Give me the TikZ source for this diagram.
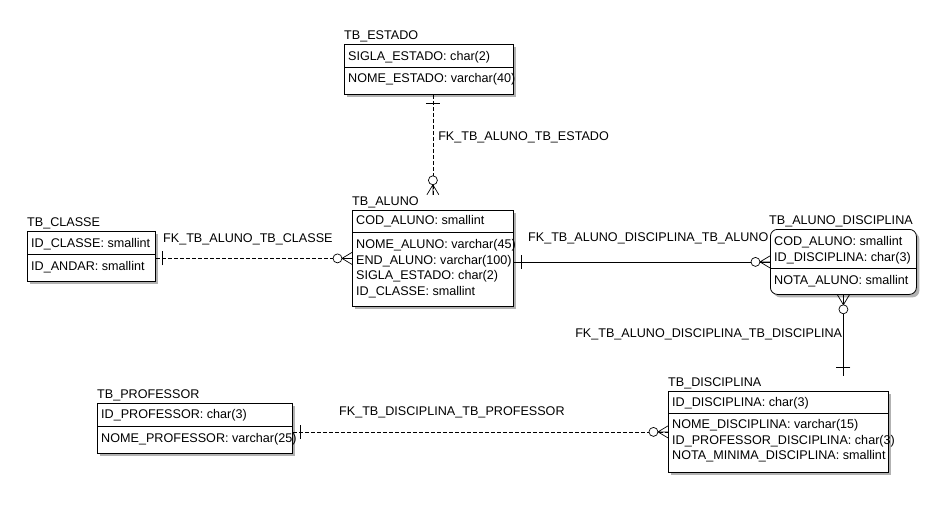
\documentclass[tikz,border=0pt]{standalone}
\usepackage{fontspec}
\setmainfont{Liberation Sans}
\usetikzlibrary{positioning,shadows,decorations.markings}

\begin{document}
\begin{tikzpicture}[x=1pt,y=-1pt,
	font=\fontsize{12.6}{15.5}\selectfont,
	tbl/.style={draw,fill=white,line width=0.8pt,anchor=north west,inner sep=0pt,
		drop shadow={shadow xshift=3pt,shadow yshift=-3pt,fill=black!30,opacity=1}},
	fld/.style={inner sep=0pt,align=left},
	ttl/.style={inner xsep=0pt,inner ysep=1.5pt},
	lbl/.style={inner sep=0pt},
	fk/.style={line width=0.7pt},
	opt/.style={fk,dash pattern=on 4pt off 2pt},
	one start/.style={postaction={decorate,decoration={markings,
		mark=at position #1 with {\draw[solid] (0,-7pt) -- (0,7pt);}}}},
	many end/.style={postaction={decorate,decoration={markings,
		mark=at position 0.9999 with {\draw[solid] (0pt,-6pt) -- (-10pt,0pt) -- (0pt,6pt) (-10pt,0pt) -- (0pt,0pt);
			\draw[solid,fill=white] (-14.5pt,0pt) circle (4.5pt);}}}}]
	\path[use as bounding box,fill=white] (0,0) rectangle (949,519);

	% TB_ESTADO
	\node[tbl,minimum width=169pt,minimum height=50pt] (estado) at (344,44) {};
	\draw ([yshift=-23pt]estado.north west) -- ([yshift=-23pt]estado.north east);
	\node[ttl,above right=0.5pt and 0pt of estado.north west] (estadot) {TB\_ESTADO};
	\node[fld,below right=7.5pt and 4pt of estado.north west] (estadopk) {SIGLA\_ESTADO: char(2)};
	\node[fld,below right=29.5pt and 4pt of estado.north west] (estadocol) {NOME\_ESTADO: varchar(40)};

	% TB_ALUNO
	\node[tbl,minimum width=161pt,minimum height=96pt] (aluno) at (352,210) {};
	\draw ([yshift=-22pt]aluno.north west) -- ([yshift=-22pt]aluno.north east);
	\node[ttl,above right=0.5pt and 0pt of aluno.north west] (alunot) {TB\_ALUNO};
	\node[fld,below right=5.5pt and 4pt of aluno.north west] (alunopk) {COD\_ALUNO: smallint};
	\node[fld,below right=29.5pt and 4pt of aluno.north west] (alunocol) {NOME\_ALUNO: varchar(45)\\END\_ALUNO: varchar(100)\\SIGLA\_ESTADO: char(2)\\ID\_CLASSE: smallint};

	% TB_CLASSE
	\node[tbl,minimum width=128pt,minimum height=50pt] (classe) at (27,231) {};
	\draw ([yshift=-23pt]classe.north west) -- ([yshift=-23pt]classe.north east);
	\node[ttl,above right=0.5pt and 0pt of classe.north west] (classet) {TB\_CLASSE};
	\node[fld,below right=7.5pt and 4pt of classe.north west] (classepk) {ID\_CLASSE: smallint};
	\node[fld,below right=30.5pt and 4pt of classe.north west] (classecol) {ID\_ANDAR: smallint};

	% TB_ALUNO_DISCIPLINA
	\node[tbl,rounded corners=7pt,minimum width=146pt,minimum height=65pt] (ad) at (770,229) {};
	\draw ([yshift=-39pt]ad.north west) -- ([yshift=-39pt]ad.north east);
	\node[ttl,above right=0.5pt and -1pt of ad.north west] (adt) {TB\_ALUNO\_DISCIPLINA};
	\node[fld,below right=7.5pt and 4pt of ad.north west] (adpk) {COD\_ALUNO: smallint\\ID\_DISCIPLINA: char(3)};
	\node[fld,below right=46.5pt and 4pt of ad.north west] (adcol) {NOTA\_ALUNO: smallint};

	% TB_DISCIPLINA
	\node[tbl,minimum width=220pt,minimum height=81pt] (disc) at (668,391) {};
	\draw ([yshift=-22pt]disc.north west) -- ([yshift=-22pt]disc.north east);
	\node[ttl,above right=0.5pt and 0pt of disc.north west] (disct) {TB\_DISCIPLINA};
	\node[fld,below right=6.5pt and 4pt of disc.north west] (discpk) {ID\_DISCIPLINA: char(3)};
	\node[fld,below right=28.5pt and 4pt of disc.north west] (disccol) {NOME\_DISCIPLINA: varchar(15)\\ID\_PROFESSOR\_DISCIPLINA: char(3)\\NOTA\_MINIMA\_DISCIPLINA: smallint};

	% TB_PROFESSOR
	\node[tbl,minimum width=195pt,minimum height=50pt] (prof) at (97,403) {};
	\draw ([yshift=-23pt]prof.north west) -- ([yshift=-23pt]prof.north east);
	\node[ttl,above right=0.5pt and 0pt of prof.north west] (proft) {TB\_PROFESSOR};
	\node[fld,below right=6.5pt and 4pt of prof.north west] (profpk) {ID\_PROFESSOR: char(3)};
	\node[fld,below right=30.5pt and 4pt of prof.north west] (profcol) {NOME\_PROFESSOR: varchar(25)};

	% relacionamentos
	\draw[opt,one start=9pt,many end] (aluno.north |- estado.south) -- (aluno.north |- alunot.north)
		node[lbl,pos=0.43,anchor=west,xshift=5pt] (fkestado) {FK\_TB\_ALUNO\_TB\_ESTADO};
	\draw[opt,one start=7pt,many end] (aluno.west -| classe.east) -- (aluno.west)
		node[lbl,pos=0,anchor=base west,xshift=7pt,yshift=16pt] (fkclasse) {FK\_TB\_ALUNO\_TB\_CLASSE};
	\draw[fk,one start=8pt,many end] (ad.west -| aluno.east) -- (ad.west)
		node[lbl,pos=0,anchor=base west,xshift=14pt,yshift=20pt] (fkadaluno) {FK\_TB\_ALUNO\_DISCIPLINA\_TB\_ALUNO};
	\draw[fk,one start=8pt,many end] (ad.south |- disct.north) -- (ad.south)
		node[lbl,pos=0.47,anchor=base east,xshift=-1pt] (fkaddisc) {FK\_TB\_ALUNO\_DISCIPLINA\_TB\_DISCIPLINA};
	\draw[opt,one start=8pt,many end] (disc.west -| prof.east) -- (disc.west)
		node[lbl,pos=0,anchor=base west,xshift=46pt,yshift=16pt] (fkprof) {FK\_TB\_DISCIPLINA\_TB\_PROFESSOR};
\end{tikzpicture}
\end{document}
